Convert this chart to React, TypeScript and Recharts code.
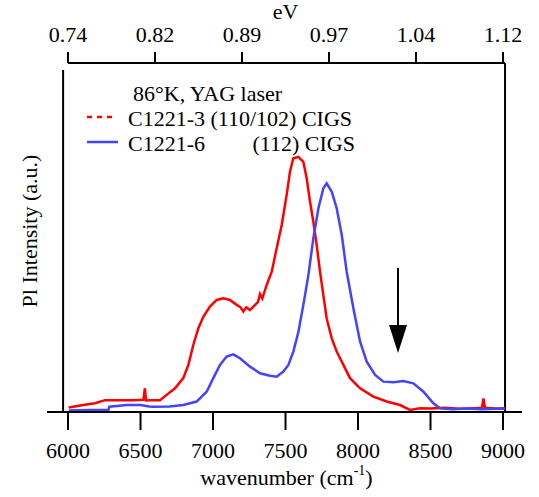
import React from 'react';
import { LineChart, Line, XAxis, YAxis, ReferenceLine, Label } from 'recharts';

// [wavenumber (cm-1), PL intensity (a.u.)]
const redSpectrum: [number, number][] = [
  [6005, 1.3], [6105, 2.0], [6185, 2.5], [6255, 3.4], [6350, 3.4], [6450, 3.4],
  [6520, 3.5], [6530, 6.8], [6538, 3.3], [6560, 3.4], [6635, 3.4], [6680, 4.9],
  [6738, 6.8], [6795, 9.7], [6830, 13.5], [6864, 19.2], [6899, 24.0], [6933, 27.3],
  [6979, 30.2], [7025, 32.1], [7071, 32.6], [7117, 32.1], [7163, 30.7], [7190, 30.0],
  [7209, 28.8], [7230, 30.0], [7255, 29.2], [7290, 30.7], [7310, 31.5], [7324, 33.8],
  [7340, 32.5], [7370, 36.4], [7405, 40.2], [7439, 46.9], [7474, 53.6], [7508, 62.2],
  [7531, 68.9], [7554, 72.7], [7589, 73.1], [7623, 71.7], [7646, 67.0], [7669, 60.3],
  [7692, 54.5], [7715, 47.8], [7738, 40.2], [7761, 33.5], [7784, 26.8], [7819, 21.1],
  [7853, 17.3], [7899, 13.5], [7945, 9.7], [8014, 6.8], [8106, 4.4], [8198, 3.0],
  [8290, 2.0], [8359, 0.6], [8428, 1.1], [8500, 1.0], [8600, 1.2], [8700, 0.9],
  [8800, 1.1], [8855, 1.2], [8865, 3.9], [8875, 1.2], [8950, 1.0], [9014, 1.1],
];

const blueSpectrum: [number, number][] = [
  [6005, 0.4], [6150, 0.6], [6278, 0.6], [6285, 1.5], [6405, 2.0], [6500, 2.0],
  [6560, 1.6], [6589, 1.5], [6700, 1.6], [6795, 2.0], [6887, 3.0], [6956, 5.8],
  [7002, 9.7], [7048, 13.5], [7094, 15.9], [7140, 16.5], [7186, 15.4], [7255, 13.0],
  [7324, 11.1], [7393, 10.4], [7439, 10.1], [7485, 11.6], [7520, 13.5], [7554, 17.3],
  [7589, 23.0], [7623, 30.7], [7658, 39.3], [7692, 49.8], [7727, 58.4], [7761, 64.1],
  [7784, 65.5], [7819, 63.1], [7853, 58.4], [7888, 50.7], [7922, 40.2], [7968, 29.7],
  [8014, 20.2], [8060, 14.4], [8118, 10.6], [8175, 8.7], [8244, 8.5], [8313, 8.9],
  [8382, 8.2], [8451, 5.8], [8520, 2.5], [8566, 1.1], [8650, 0.8], [8750, 1.0],
  [8850, 0.8], [8950, 0.9], [9014, 0.9],
];

const wavenumberTicks = [6000, 6500, 7000, 7500, 8000, 8500, 9000];
const evTicks = [6000, 6600, 7200, 7800, 8400, 9000];
const legendTitle = '86°K, YAG laser';
const legendRed = 'C1221-3 (110/102) CIGS';
const legendBlueName = 'C1221-6';
const legendBlueType = '(112) CIGS';
const arrowMark = { wavenumber: 8276, from: 41.3, to: 16.9 };

const font = "'Liberation Serif', 'Times New Roman', 'DejaVu Serif', serif";
const RED = '#ff0000';
const BLUE = '#4444ff';
const xDomain: [number, number] = [5855, 9131];

const toPoints = (s: [number, number][]) => s.map(([wavenumber, intensity]) => ({ wavenumber, intensity }));
const redData = toPoints(redSpectrum);
const blueData = toPoints(blueSpectrum);

const Arrow = (p: any) => {
  const x = p.x1;
  const top = Math.min(p.y1, p.y2);
  const tip = Math.max(p.y1, p.y2);
  const headBase = tip - 28;
  return (
    <g>
      <line x1={x} y1={top} x2={x} y2={headBase} stroke="#000" strokeWidth={2} />
      <polygon points={`${x - 9},${headBase} ${x + 9},${headBase} ${x},${tip}`} fill="#000" />
    </g>
  );
};

export default function App() {
  const tickStyle = { fontSize: 22, fill: '#000', style: { fontFamily: font } };
  const textStyle = { fontFamily: font, fontSize: 22 };
  return (
    <div style={{ position: 'absolute', left: 0, top: 0, width: 539, height: 497, background: '#fff', fontFamily: font }}>
      <LineChart width={539} height={497} margin={{ top: 23, right: 17, bottom: 25, left: 47 }} style={{ fontFamily: font }}>
        <XAxis
          xAxisId="bottom"
          dataKey="wavenumber"
          type="number"
          domain={xDomain}
          allowDataOverflow
          ticks={wavenumberTicks}
          height={60}
          tickSize={18}
          tickMargin={12}
          axisLine={{ stroke: '#000', strokeWidth: 2 }}
          tickLine={{ stroke: '#000', strokeWidth: 2 }}
          tick={tickStyle}
        >
          <Label
            content={({ viewBox }: any) => (
              <text x={viewBox.x + viewBox.width / 2 + 2} y={485} textAnchor="middle" style={textStyle} fill="#000">
                wavenumber (cm<tspan dy={-10} fontSize={14}>-1</tspan><tspan dy={10}>)</tspan>
              </text>
            )}
          />
        </XAxis>
        <XAxis
          xAxisId="top"
          orientation="top"
          dataKey="wavenumber"
          type="number"
          domain={xDomain}
          allowDataOverflow
          ticks={evTicks}
          tickFormatter={(v: number) => (v * 1.23984e-4).toFixed(2)}
          height={40}
          tickSize={11}
          tickMargin={10}
          axisLine={false}
          tickLine={{ stroke: '#000', strokeWidth: 2 }}
          tick={tickStyle}
        >
          <Label
            content={({ viewBox }: any) => (
              <text x={viewBox.x + viewBox.width / 2 + 1} y={19} textAnchor="middle" style={textStyle} fill="#000">
                eV
              </text>
            )}
          />
        </XAxis>
        <YAxis yAxisId="left" type="number" domain={[0, 100]} allowDataOverflow width={0} hide />

        <ReferenceLine xAxisId="bottom" yAxisId="left" segment={[{ x: 5966, y: 98 }, { x: 5966, y: 0 }]} stroke="#000" strokeWidth={2} />
        <ReferenceLine xAxisId="bottom" yAxisId="left" segment={[{ x: 9014, y: 100 }, { x: 9014, y: 0 }]} stroke="#000" strokeWidth={2} />
        <ReferenceLine xAxisId="bottom" yAxisId="left" segment={[{ x: 6000, y: 100 }, { x: 9014, y: 100 }]} stroke="#000" strokeWidth={2} />

        <Line
          xAxisId="bottom"
          yAxisId="left"
          data={redData}
          dataKey="intensity"
          stroke={RED}
          strokeWidth={2.5}
          dot={false}
          type="linear"
          isAnimationActive={false}
        />
        <Line
          xAxisId="bottom"
          yAxisId="left"
          data={blueData}
          dataKey="intensity"
          stroke={BLUE}
          strokeWidth={2.5}
          dot={false}
          type="linear"
          isAnimationActive={false}
        />

        <ReferenceLine
          xAxisId="bottom"
          yAxisId="left"
          segment={[{ x: arrowMark.wavenumber, y: arrowMark.from }, { x: arrowMark.wavenumber, y: arrowMark.to }]}
          shape={Arrow}
        />
      </LineChart>

      <svg width={539} height={497} style={{ position: 'absolute', left: 0, top: 0, pointerEvents: 'none' }}>
        <g style={textStyle} fill="#000">
          <text x={37} y={231} transform="rotate(-90 37 231)" textAnchor="middle">Pl Intensity (a.u.)</text>
          <text x={133} y={101}>{legendTitle}</text>
          <line x1={87} y1={117} x2={113} y2={117} stroke={RED} strokeWidth={2.5} strokeDasharray="5 5" />
          <text x={128} y={126}>{legendRed}</text>
          <line x1={87} y1={142} x2={118} y2={142} stroke={BLUE} strokeWidth={2.5} />
          <text x={128} y={151}>{legendBlueName}</text>
          <text x={355} y={151} textAnchor="end">{legendBlueType}</text>
        </g>
      </svg>
    </div>
  );
}
